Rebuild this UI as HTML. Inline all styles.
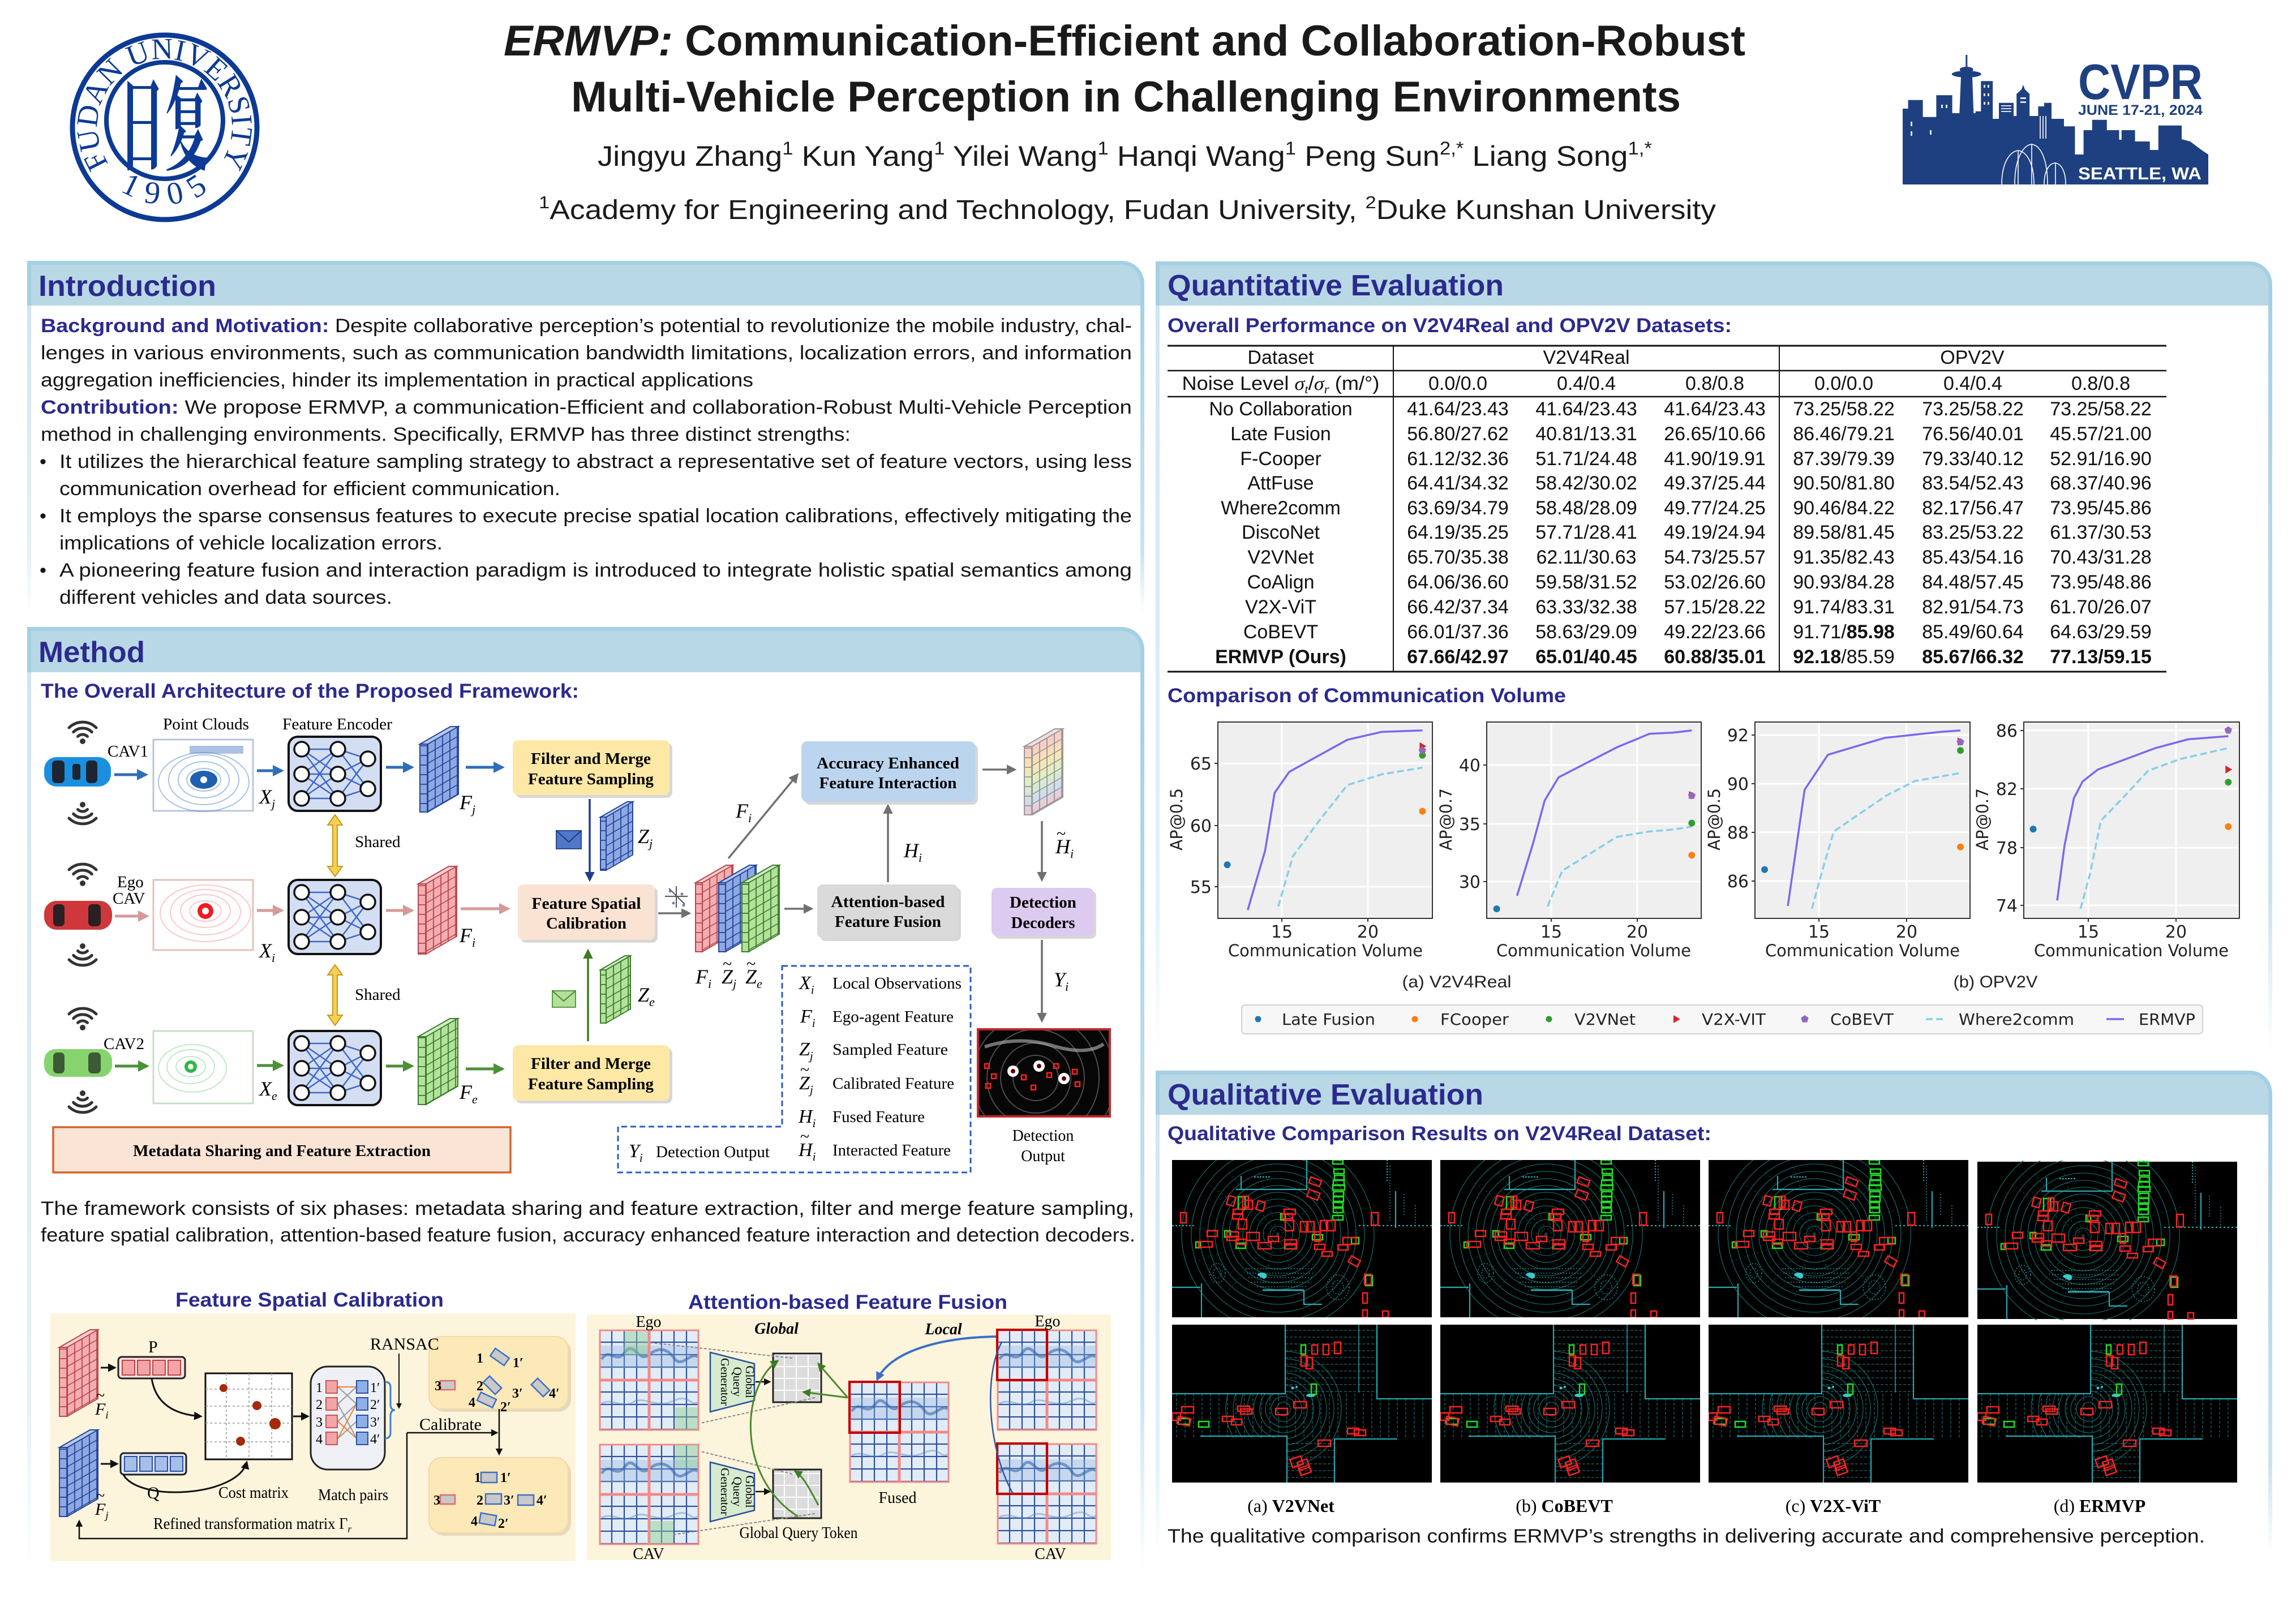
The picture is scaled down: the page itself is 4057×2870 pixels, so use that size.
<!DOCTYPE html>
<html><head><meta charset="utf-8"><title>ERMVP Poster</title>
<style>
html,body{margin:0;padding:0;background:#fff;width:4057px;height:2870px;overflow:hidden}
svg{display:block}
</style></head><body>
<svg xmlns="http://www.w3.org/2000/svg" width="4057" height="2870" viewBox="0 0 4057 2870" font-family="Liberation Sans, Arial, sans-serif">
<defs>
<linearGradient id="gR" x1="0" y1="0" x2="0" y2="1"><stop offset="0" stop-color="#a6d1e4"/><stop offset="0.8" stop-color="#c9e4ef"/><stop offset="1" stop-color="#ffffff"/></linearGradient>
<linearGradient id="gL" x1="0" y1="0" x2="0" y2="1"><stop offset="0" stop-color="#cfe6f1"/><stop offset="0.8" stop-color="#e3f1f7"/><stop offset="1" stop-color="#ffffff"/></linearGradient>
<linearGradient id="gRb" x1="0" y1="0" x2="0" y2="1"><stop offset="0" stop-color="#f5c9c9"/><stop offset="0.3" stop-color="#fbe4b4"/><stop offset="0.55" stop-color="#dcefc6"/><stop offset="0.8" stop-color="#cfdcef"/><stop offset="1" stop-color="#f3c6cf"/></linearGradient>
<pattern id="pB" width="13" height="17" patternUnits="userSpaceOnUse"><rect width="13" height="17" fill="#8ea9e2" stroke="#23449a" stroke-width="1.8"/></pattern>
<pattern id="pR" width="13" height="17" patternUnits="userSpaceOnUse"><rect width="13" height="17" fill="#f4aeb0" stroke="#b8474f" stroke-width="1.8"/></pattern>
<pattern id="pG" width="13" height="17" patternUnits="userSpaceOnUse"><rect width="13" height="17" fill="#b3e29b" stroke="#3d7b2d" stroke-width="1.8"/></pattern>
<pattern id="pK" width="13" height="17" patternUnits="userSpaceOnUse"><rect width="13" height="17" fill="none" stroke="#8a8a8a" stroke-width="1.5"/></pattern>
<pattern id="pQ" width="22" height="22" patternUnits="userSpaceOnUse"><rect width="22" height="22" fill="#e2ecf6" stroke="#2c4f9f" stroke-width="2.2"/></pattern>
<pattern id="pT" width="21" height="21" patternUnits="userSpaceOnUse"><rect width="21" height="21" fill="#dcdcdc" stroke="#ffffff" stroke-width="2"/></pattern>
<marker id="aB" viewBox="0 0 10 10" refX="8" refY="5" markerWidth="4" markerHeight="4" orient="auto"><path d="M0,0L10,5L0,10z" fill="#2e6fb7"/></marker>
<marker id="aP" viewBox="0 0 10 10" refX="8" refY="5" markerWidth="4" markerHeight="4" orient="auto"><path d="M0,0L10,5L0,10z" fill="#d49a97"/></marker>
<marker id="aG" viewBox="0 0 10 10" refX="8" refY="5" markerWidth="4" markerHeight="4" orient="auto"><path d="M0,0L10,5L0,10z" fill="#4b9139"/></marker>
<marker id="aK" viewBox="0 0 10 10" refX="8" refY="5" markerWidth="5" markerHeight="5" orient="auto"><path d="M0,0L10,5L0,10z" fill="#707070"/></marker>
<marker id="aD" viewBox="0 0 10 10" refX="8" refY="5" markerWidth="5" markerHeight="5" orient="auto"><path d="M0,0L10,5L0,10z" fill="#1f3d8f"/></marker>
<marker id="aDG" viewBox="0 0 10 10" refX="8" refY="5" markerWidth="5" markerHeight="5" orient="auto"><path d="M0,0L10,5L0,10z" fill="#3f7a25"/></marker>
<marker id="aBk" viewBox="0 0 10 10" refX="8" refY="5" markerWidth="5" markerHeight="5" orient="auto"><path d="M0,0L10,5L0,10z" fill="#111"/></marker>
<marker id="aBl" viewBox="0 0 10 10" refX="8" refY="5" markerWidth="4" markerHeight="4" orient="auto"><path d="M0,0L10,5L0,10z" fill="#3a6fc8"/></marker>

<g id="enc">
<rect x="0" y="0" width="163" height="131" rx="16" fill="#d4def3" stroke="#111" stroke-width="4"/>
<g stroke="#3d68c9" stroke-width="2.5">
<path d="M23,22L87,22M23,22L87,66M23,22L87,109M23,66L87,22M23,66L87,66M23,66L87,109M23,109L87,22M23,109L87,66M23,109L87,109"/>
<path d="M87,22L140,39M87,22L140,92M87,66L140,39M87,66L140,92M87,109L140,39M87,109L140,92"/>
</g>
<g fill="#fff" stroke="#111" stroke-width="3.5">
<circle cx="23" cy="22" r="13"/><circle cx="23" cy="66" r="13"/><circle cx="23" cy="109" r="13"/>
<circle cx="87" cy="22" r="13"/><circle cx="87" cy="66" r="13"/><circle cx="87" cy="109" r="13"/>
<circle cx="140" cy="39" r="13"/><circle cx="140" cy="92" r="13"/>
</g>
</g>

<g id="q4">
<rect x="0" y="0" width="176" height="178" fill="url(#pQ)"/>
<rect x="0" y="28" width="176" height="40" fill="#8fb4e0" opacity="0.35"/>
<path d="M4,52 C18,30 30,62 45,40 S70,58 86,45 S118,30 132,50 S160,38 174,48" stroke="#2c5ea8" stroke-width="5" fill="none" opacity="0.55"/>
<path d="M4,130 C25,120 40,140 60,128 S100,140 130,126 S160,136 174,128" stroke="#4d7fc0" stroke-width="3" fill="none" opacity="0.4"/>
<g fill="none" stroke="#f28a8a" stroke-width="3">
<rect x="1" y="1" width="86" height="87"/><rect x="89" y="1" width="86" height="87"/>
<rect x="1" y="90" width="86" height="87"/><rect x="89" y="90" width="86" height="87"/>
</g>
</g>

<clipPath id="cpB"><path d="M200,0 H362 V131 H459 V200 H287 V279 H203 V200 H0 V122 H200 Z"/></clipPath>

<symbol id="scA" viewBox="0 0 459 278">
<rect width="459" height="278" fill="#000"/>
<g fill="none" stroke="#137070" stroke-width="1.3" opacity="0.9">
<circle cx="187" cy="131" r="14"/><circle cx="187" cy="131" r="26"/><circle cx="187" cy="131" r="38"/><circle cx="187" cy="131" r="50"/><circle cx="187" cy="131" r="62"/><circle cx="187" cy="131" r="74"/><circle cx="187" cy="131" r="86"/><circle cx="187" cy="131" r="98"/><circle cx="187" cy="131" r="111"/><circle cx="187" cy="131" r="124"/><circle cx="187" cy="131" r="138"/><circle cx="187" cy="131" r="153"/><circle cx="187" cy="131" r="170"/>
<path d="M187,131L60,40M187,131L100,20M187,131L150,10M187,131L240,15M187,131L300,40M187,131L360,80M187,131L100,230M187,131L150,250M187,131L230,250M187,131L300,230M187,131L40,180M187,131L30,120" stroke-dasharray="3 5" opacity="0.7"/>
</g>
<g stroke="#2aa8b0" fill="none" stroke-width="2.2">
<path d="M113,52H238V0"/><path d="M122,28V52"/><path d="M145,30H175" stroke-dasharray="3 2"/><path d="M395,55V120"/><path d="M380,0V40" stroke-dasharray="2 3"/>
<path d="M0,225H50"/><path d="M52,218V278"/><path d="M160,230H233" stroke-width="3"/><path d="M233,230V255H265"/>
<path d="M0,116H40" stroke-dasharray="3 3"/><path d="M330,116H459" stroke-dasharray="3 4"/>
</g>
<g fill="none" stroke="#2aa0a8" stroke-width="1.6" stroke-dasharray="2 3" opacity="0.85">
<ellipse cx="80" cy="200" rx="14" ry="17"/><ellipse cx="80" cy="200" rx="7" ry="9"/>
<ellipse cx="293" cy="225" rx="20" ry="22"/><ellipse cx="293" cy="225" rx="10" ry="12"/>
<path d="M130,192H250M132,200H252M135,208H250M140,216H245M150,224H240"/>
<path d="M385,10V110M410,60V100M430,80V120"/>
</g>
<path d="M150,203 q8,-7 16,-2 q4,6 -4,9 z" fill="#3cc8d0"/>
<g fill="none" stroke="#22e022" stroke-width="2.5">
<rect x="284" y="0" width="18" height="7"/><rect x="286" y="16" width="18" height="8"/><rect x="287" y="27" width="17" height="8"/><rect x="285" y="36" width="19" height="9"/><rect x="284" y="44" width="21" height="9"/><rect x="285" y="56" width="18" height="8"/><rect x="285" y="65" width="18" height="8"/><rect x="285" y="75" width="17" height="8"/><rect x="285" y="85" width="17" height="8"/><rect x="284" y="98" width="18" height="8"/>
<rect x="42" y="145" width="8" height="10"/><rect x="93" y="125" width="10" height="11"/><rect x="113" y="147" width="17" height="9"/><rect x="192" y="95" width="8" height="11"/><rect x="248" y="132" width="18" height="9"/><rect x="317" y="137" width="13" height="11"/><rect x="342" y="204" width="12" height="18"/><rect x="117" y="65" width="12" height="22"/><rect x="199" y="149" width="21" height="8"/>
</g>
<g fill="none" stroke="#ff2020" stroke-width="2.5">
<rect x="15" y="93" width="10" height="18"/><rect x="98" y="64" width="13" height="16" transform="rotate(15 104 72)"/><rect x="125" y="64" width="10" height="20"/><rect x="130" y="71" width="12" height="16"/><rect x="150" y="73" width="13" height="16" transform="rotate(15 156 81)"/><rect x="243" y="33" width="20" height="11" transform="rotate(20 253 38)"/><rect x="240" y="55" width="20" height="13" transform="rotate(20 250 61)"/><rect x="108" y="87" width="17" height="9"/><rect x="107" y="95" width="18" height="9"/><rect x="117" y="105" width="15" height="17"/><rect x="198" y="87" width="20" height="9"/><rect x="195" y="95" width="18" height="9"/><rect x="200" y="107" width="15" height="18"/><rect x="227" y="109" width="13" height="18"/><rect x="238" y="109" width="13" height="18"/><rect x="262" y="107" width="13" height="18"/><rect x="273" y="107" width="15" height="18"/><rect x="252" y="127" width="10" height="17"/><rect x="352" y="93" width="12" height="22"/><rect x="62" y="125" width="18" height="10"/><rect x="47" y="144" width="24" height="10"/><rect x="97" y="127" width="20" height="9"/><rect x="97" y="135" width="20" height="7"/><rect x="113" y="140" width="18" height="9"/><rect x="132" y="128" width="22" height="14"/><rect x="152" y="146" width="23" height="11"/><rect x="170" y="135" width="18" height="9"/><rect x="199" y="141" width="21" height="9"/><rect x="200" y="148" width="20" height="9"/><rect x="252" y="149" width="18" height="9"/><rect x="265" y="162" width="18" height="8"/><rect x="293" y="150" width="18" height="9"/><rect x="302" y="137" width="23" height="12"/><rect x="313" y="173" width="18" height="12" transform="rotate(30 322 179)"/><rect x="340" y="202" width="12" height="18"/><rect x="337" y="235" width="8" height="18"/><rect x="337" y="265" width="8" height="13"/><rect x="372" y="267" width="10" height="11"/>
</g>
</symbol>

<symbol id="scB" viewBox="0 0 459 279">
<rect width="459" height="279" fill="#000"/>
<g clip-path="url(#cpB)">
<g fill="none" stroke="#137070" stroke-width="1.3" opacity="0.9">
<circle cx="197" cy="149" r="12"/><circle cx="197" cy="149" r="22"/><circle cx="197" cy="149" r="32"/><circle cx="197" cy="149" r="42"/><circle cx="197" cy="149" r="53"/><circle cx="197" cy="149" r="64"/><circle cx="197" cy="149" r="76"/><circle cx="197" cy="149" r="89"/><circle cx="197" cy="149" r="102"/>
</g>
<g fill="none" stroke="#168088" stroke-width="1.2" stroke-dasharray="5 3" opacity="0.85">
<path d="M8,122V200M23,122V200M38,122V200M53,122V200M68,122V200M83,122V200M98,122V200M113,122V200M128,122V200M143,122V200M158,122V200M173,122V200M188,122V200M203,122V200M218,122V200M233,122V200M248,122V200M263,122V200M278,122V200M293,122V200M308,122V200M323,122V200M338,122V200M353,122V200M368,122V200M383,122V200M398,122V200M413,122V200M428,122V200M443,122V200"/>
<path d="M200,10H362M200,22H362M200,34H362M200,46H362M200,58H362M200,70H362M200,82H362M200,94H362M200,106H362M200,118H362"/>
<path d="M203,210H287M203,222H287M203,234H287M203,246H287M203,258H287M203,270H287"/>
</g>
</g>
<g stroke="#25a8b0" fill="none" stroke-width="2.2">
<path d="M200,0V122H0"/><path d="M362,0V131H459"/><path d="M50,197H203V279"/><path d="M287,279V202H398"/><path d="M330,0V120" stroke-width="1.4"/>
</g>
<g fill="#3cc8d0"><ellipse cx="245" cy="125" rx="8" ry="3"/><circle cx="213" cy="112" r="2.5"/><circle cx="220" cy="110" r="2"/></g>
<g fill="none" stroke="#22e022" stroke-width="2.5">
<rect x="228" y="36" width="8" height="16"/><rect x="246" y="105" width="9" height="18"/><rect x="47" y="171" width="18" height="10"/><rect x="11" y="166" width="20" height="10"/>
</g>
<g fill="none" stroke="#ff2020" stroke-width="2.5">
<rect x="247" y="36" width="10" height="16"/><rect x="267" y="35" width="10" height="18"/><rect x="287" y="31" width="11" height="20"/><rect x="228" y="55" width="11" height="18"/><rect x="237" y="58" width="11" height="20"/><rect x="215" y="136" width="22" height="11"/><rect x="183" y="148" width="21" height="11"/><rect x="116" y="144" width="21" height="9"/><rect x="121" y="149" width="20" height="9"/><rect x="89" y="162" width="19" height="9"/><rect x="105" y="167" width="18" height="10"/><rect x="17" y="145" width="21" height="11"/><rect x="0" y="156" width="15" height="13"/><rect x="10" y="164" width="22" height="13" transform="rotate(12 21 170)"/><rect x="310" y="183" width="20" height="10"/><rect x="322" y="186" width="20" height="10"/><rect x="258" y="204" width="22" height="11"/><rect x="210" y="235" width="20" height="15" transform="rotate(-20 220 242)"/><rect x="223" y="240" width="18" height="15" transform="rotate(-20 232 247)"/><rect x="225" y="251" width="19" height="13" transform="rotate(-20 234 257)"/>
</g>
</symbol>

<g id="mV2X"><path d="M-5,-7L7,0L-5,7Z" fill="#d62728"/></g>
<g id="mCo"><path d="M0,-7L6.7,-2.2L4.1,5.7L-4.1,5.7L-6.7,-2.2Z" fill="#9467bd"/></g>
<clipPath id="cpDet"><rect x="1728" y="1819" width="233" height="154"/></clipPath>
</defs>

<rect width="4057" height="2870" fill="#fff"/>

<!-- ================= HEADER ================= -->
<g>
<circle cx="291" cy="225" r="163" fill="none" stroke="#0c3a94" stroke-width="9"/>
<circle cx="291" cy="213" r="103" fill="none" stroke="#0c3a94" stroke-width="8"/>
<path id="fudanArc" d="M193.5,291.3 A119,119 0 1 1 388.5,291.3" fill="none"/>
<path id="fudanArc2" d="M175.7,297.1 A136,136 0 0 0 406.3,297.1" fill="none"/>
<text font-family="Liberation Serif, serif" font-size="53" fill="#0c3a94"><textPath href="#fudanArc" startOffset="2">FUDAN UNIVERSITY</textPath></text>
<text font-family="Liberation Serif, serif" font-size="56" fill="#0c3a94" letter-spacing="18" text-anchor="middle"><textPath href="#fudanArc2" startOffset="53%">1905</textPath></text>
<text transform="translate(291,286) scale(0.85,1.9)" font-family="Noto Serif CJK SC, Noto Sans CJK SC, serif" font-weight="bold" font-size="95" fill="#0c3a94" text-anchor="middle">日复</text>
</g>

<text x="890" y="98" font-size="76" font-weight="bold" fill="#1a1a1a" textLength="2194" lengthAdjust="spacingAndGlyphs"><tspan font-style="italic">ERMVP:</tspan> Communication-Efficient and Collaboration-Robust</text>
<text x="1009" y="197" font-size="76" font-weight="bold" fill="#1a1a1a" textLength="1961" lengthAdjust="spacingAndGlyphs">Multi-Vehicle Perception in Challenging Environments</text>
<text x="1056" y="293" font-size="50" fill="#1a1a1a" textLength="1863" lengthAdjust="spacingAndGlyphs">Jingyu Zhang<tspan font-size="32" dy="-20">1</tspan><tspan dy="20"> Kun Yang</tspan><tspan font-size="32" dy="-20">1</tspan><tspan dy="20"> Yilei Wang</tspan><tspan font-size="32" dy="-20">1</tspan><tspan dy="20"> Hanqi Wang</tspan><tspan font-size="32" dy="-20">1</tspan><tspan dy="20"> Peng Sun</tspan><tspan font-size="32" dy="-20">2,*</tspan><tspan dy="20"> Liang Song</tspan><tspan font-size="32" dy="-20">1,*</tspan></text>
<text x="952" y="387" font-size="48" fill="#1a1a1a" textLength="2080" lengthAdjust="spacingAndGlyphs"><tspan font-size="31" dy="-19">1</tspan><tspan dy="19">Academy for Engineering and Technology, Fudan University, </tspan><tspan font-size="31" dy="-19">2</tspan><tspan dy="19">Duke Kunshan University</tspan></text>

<!-- CVPR logo -->
<g fill="#1f4080">
<path d="M3362,326 V192 H3371.6 V176.7 H3397.6 V206.7 H3421.4 V168.3 H3449.6 V200 H3490.8 V196.7 H3500.3 V143.3 H3521.2 V210 H3532 V181.7 H3558 V205 H3563.2 V166 L3572,158 L3575,150 L3578,158 L3586.2,166 V205 H3601.4 V188 H3612 V181.7 H3625 V210 H3647 V223.3 H3666.4 V273 H3681.6 V230 H3696.8 V211.7 H3722.8 V230 H3744.5 V247 H3748.8 V230 H3772.6 V250 H3798.7 V265 H3813.8 V221.7 H3855 V246 L3870,250 L3890,265 L3902,273 V326 Z"/>
<path d="M3473.3,97 h3 v28 h-3 z"/>
<ellipse cx="3474.8" cy="131" rx="26" ry="6"/><ellipse cx="3474.8" cy="123" rx="12" ry="5"/>
<polygon points="3465,136 3485,136 3492,326 3457,326"/>
<text x="3672" y="175" font-size="88" font-weight="bold" textLength="220" lengthAdjust="spacingAndGlyphs">CVPR</text>
<text x="3672" y="203" font-size="25" font-weight="bold" textLength="220" lengthAdjust="spacingAndGlyphs">JUNE 17-21, 2024</text>
</g>
<g fill="#fff" opacity="0.85">
<rect x="3376" y="215" width="3" height="8"/><rect x="3376" y="232" width="3" height="8"/><rect x="3410" y="230" width="3" height="8"/><rect x="3430" y="185" width="3" height="6"/><rect x="3438" y="185" width="3" height="6"/>
<rect x="3505" y="150" width="3" height="5"/><rect x="3512" y="150" width="3" height="5"/><rect x="3505" y="165" width="3" height="5"/><rect x="3512" y="165" width="3" height="5"/><rect x="3505" y="180" width="3" height="5"/><rect x="3512" y="180" width="3" height="5"/>
<rect x="3536" y="186" width="18" height="2"/><rect x="3536" y="191" width="18" height="2"/><rect x="3536" y="196" width="18" height="2"/><rect x="3570" y="172" width="10" height="3"/><rect x="3570" y="179" width="10" height="3"/>
<rect x="3604" y="205" width="2" height="40"/><rect x="3609" y="205" width="2" height="40"/><rect x="3614" y="205" width="2" height="40"/>
</g>
<g fill="none" stroke="#fff" stroke-width="1.6">
<path d="M3537,326 C3537,290 3550,268 3566,266 C3582,268 3594,290 3594,326"/>
<path d="M3560,326 C3560,280 3575,256 3590,255 C3606,257 3618,282 3618,326"/>
<path d="M3612,326 C3612,300 3622,288 3632,288 C3642,290 3650,302 3650,326"/>
<path d="M3566,266 V326 M3590,255 V326 M3632,288 V326"/>
</g>
<text x="3672" y="317" font-size="31" font-weight="bold" fill="#fff" textLength="218" lengthAdjust="spacingAndGlyphs">SEATTLE, WA</text>

<!-- ================= SECTION FRAMES ================= -->
<path d="M48,540 V461 H1982 A40,40 0 0 1 2022,501 V540 Z" fill="#a5d0e3"/>
<path d="M55,540 V468 H1982 A33,33 0 0 1 2015,501 V540 Z" fill="#b9d8e6"/>
<rect x="48" y="540" width="7" height="543" fill="url(#gL)"/>
<rect x="2015" y="540" width="7" height="543" fill="url(#gR)"/>
<path d="M48,1188 V1108 H1982 A40,40 0 0 1 2022,1148 V1188 Z" fill="#a5d0e3"/>
<path d="M55,1188 V1115 H1982 A33,33 0 0 1 2015,1148 V1188 Z" fill="#b9d8e6"/>
<rect x="48" y="1188" width="7" height="1587" fill="url(#gL)"/>
<rect x="2015" y="1188" width="7" height="1587" fill="url(#gR)"/>
<path d="M2042,540 V462 H3975 A40,40 0 0 1 4015,502 V540 Z" fill="#a5d0e3"/>
<path d="M2049,540 V469 H3975 A33,33 0 0 1 4008,502 V540 Z" fill="#b9d8e6"/>
<rect x="2042" y="540" width="7" height="1315" fill="url(#gL)"/>
<rect x="4008" y="540" width="7" height="1315" fill="url(#gR)"/>
<path d="M2042,1970 V1892 H3975 A40,40 0 0 1 4015,1932 V1970 Z" fill="#a5d0e3"/>
<path d="M2049,1970 V1899 H3975 A33,33 0 0 1 4008,1932 V1970 Z" fill="#b9d8e6"/>
<rect x="2042" y="1970" width="7" height="775" fill="url(#gL)"/>
<rect x="4008" y="1970" width="7" height="775" fill="url(#gR)"/>

<g font-size="52" font-weight="bold" fill="#2b2a8d">
<text x="68" y="523" textLength="314" lengthAdjust="spacingAndGlyphs">Introduction</text>
<text x="68" y="1170" textLength="188" lengthAdjust="spacingAndGlyphs">Method</text>
<text x="2063" y="522" textLength="594" lengthAdjust="spacingAndGlyphs">Quantitative Evaluation</text>
<text x="2063" y="1952" textLength="558" lengthAdjust="spacingAndGlyphs">Qualitative Evaluation</text>
</g>
<g font-size="35" font-weight="bold" fill="#2b2a8d">
<text x="72" y="1233" textLength="951" lengthAdjust="spacingAndGlyphs">The Overall Architecture of the Proposed Framework:</text>
<text x="2063" y="587" textLength="997" lengthAdjust="spacingAndGlyphs">Overall Performance on V2V4Real and OPV2V Datasets:</text>
<text x="2063" y="1241" textLength="704" lengthAdjust="spacingAndGlyphs">Comparison of Communication Volume</text>
<text x="2063" y="2015" textLength="961" lengthAdjust="spacingAndGlyphs">Qualitative Comparison Results on V2V4Real Dataset:</text>
<text x="310" y="2309" textLength="474" lengthAdjust="spacingAndGlyphs">Feature Spatial Calibration</text>
<text x="1216" y="2313" textLength="564" lengthAdjust="spacingAndGlyphs">Attention-based Feature Fusion</text>
</g>

<!-- ================= INTRO TEXT ================= -->
<g font-size="34" fill="#151515">
<text x="72" y="587" textLength="1928" lengthAdjust="spacingAndGlyphs"><tspan font-weight="bold" fill="#2b2a8d">Background and Motivation:</tspan> Despite collaborative perception’s potential to revolutionize the mobile industry, chal-</text>
<text x="72" y="635" textLength="1928" lengthAdjust="spacingAndGlyphs">lenges in various environments, such as communication bandwidth limitations, localization errors, and information</text>
<text x="72" y="683" textLength="1259" lengthAdjust="spacingAndGlyphs">aggregation inefficiencies, hinder its implementation in practical applications</text>
<text x="72" y="731" textLength="1928" lengthAdjust="spacingAndGlyphs"><tspan font-weight="bold" fill="#2b2a8d">Contribution:</tspan> We propose ERMVP, a communication-Efficient and collaboration-Robust Multi-Vehicle Perception</text>
<text x="72" y="779" textLength="1431" lengthAdjust="spacingAndGlyphs">method in challenging environments. Specifically, ERMVP has three distinct strengths:</text>
<text x="70" y="827">•</text>
<text x="105" y="827" textLength="1895" lengthAdjust="spacingAndGlyphs">It utilizes the hierarchical feature sampling strategy to abstract a representative set of feature vectors, using less</text>
<text x="105" y="875" textLength="885" lengthAdjust="spacingAndGlyphs">communication overhead for efficient communication.</text>
<text x="70" y="923">•</text>
<text x="105" y="923" textLength="1895" lengthAdjust="spacingAndGlyphs">It employs the sparse consensus features to execute precise spatial location calibrations, effectively mitigating the</text>
<text x="105" y="971" textLength="677" lengthAdjust="spacingAndGlyphs">implications of vehicle localization errors.</text>
<text x="70" y="1019">•</text>
<text x="105" y="1019" textLength="1895" lengthAdjust="spacingAndGlyphs">A pioneering feature fusion and interaction paradigm is introduced to integrate holistic spatial semantics among</text>
<text x="105" y="1067" textLength="588" lengthAdjust="spacingAndGlyphs">different vehicles and data sources.</text>
<text x="72" y="2147" textLength="1932" lengthAdjust="spacingAndGlyphs">The framework consists of six phases: metadata sharing and feature extraction, filter and merge feature sampling,</text>
<text x="72" y="2194" textLength="1934" lengthAdjust="spacingAndGlyphs">feature spatial calibration, attention-based feature fusion, accuracy enhanced feature interaction and detection decoders.</text>
</g>

<!-- ================= METHOD DIAGRAM ================= -->
<g font-family="Liberation Serif, serif">
<g fill="none" stroke="#333" stroke-width="5" stroke-linecap="round">
<path d="M137.5,1301.5 A12,12 0 0 1 154.5,1301.5 M129.7,1293.7 A23,23 0 0 1 162.3,1293.7 M122,1286 A34,34 0 0 1 170,1286"/>
<path d="M137.5,1430.5 A12,12 0 0 0 154.5,1430.5 M129.7,1438.3 A23,23 0 0 0 162.3,1438.3 M122,1446 A34,34 0 0 0 170,1446"/>
<path d="M137.5,1552.5 A12,12 0 0 1 154.5,1552.5 M129.7,1544.7 A23,23 0 0 1 162.3,1544.7 M122,1537 A34,34 0 0 1 170,1537"/>
<path d="M137.5,1680.5 A12,12 0 0 0 154.5,1680.5 M129.7,1688.3 A23,23 0 0 0 162.3,1688.3 M122,1696 A34,34 0 0 0 170,1696"/>
<path d="M137.5,1807.5 A12,12 0 0 1 154.5,1807.5 M129.7,1799.7 A23,23 0 0 1 162.3,1799.7 M122,1792 A34,34 0 0 1 170,1792"/>
<path d="M137.5,1940.5 A12,12 0 0 0 154.5,1940.5 M129.7,1948.3 A23,23 0 0 0 162.3,1948.3 M122,1956 A34,34 0 0 0 170,1956"/>
</g>
<g fill="#333"><circle cx="146" cy="1310" r="5"/><circle cx="146" cy="1422" r="5"/><circle cx="146" cy="1561" r="5"/><circle cx="146" cy="1672" r="5"/><circle cx="146" cy="1816" r="5"/><circle cx="146" cy="1932" r="5"/></g>

<rect x="78" y="1338" width="118" height="52" rx="22" fill="#1b8fe0"/>
<rect x="92" y="1344" width="22" height="40" rx="7" fill="#1d2530"/><rect x="128" y="1350" width="14" height="28" rx="4" fill="#1d2530"/><rect x="152" y="1344" width="20" height="40" rx="7" fill="#1d2530"/>
<rect x="78" y="1592" width="120" height="51" rx="22" fill="#cf373b"/>
<rect x="94" y="1598" width="20" height="39" rx="7" fill="#2a1f22"/><rect x="156" y="1598" width="22" height="39" rx="7" fill="#2a1f22"/>
<rect x="78" y="1854" width="120" height="49" rx="20" fill="#86d46e"/>
<rect x="94" y="1860" width="20" height="37" rx="7" fill="#3d5a36"/><rect x="156" y="1860" width="22" height="37" rx="7" fill="#3d5a36"/>

<g font-size="29">
<text x="190" y="1337">CAV1</text>
<text x="207" y="1568">Ego</text>
<text x="199" y="1597">CAV</text>
<text x="183" y="1854">CAV2</text>
<text x="288" y="1289" textLength="152" lengthAdjust="spacingAndGlyphs">Point Clouds</text>
<text x="499" y="1289" textLength="194" lengthAdjust="spacingAndGlyphs">Feature Encoder</text>
<text x="627" y="1497">Shared</text>
<text x="627" y="1767">Shared</text>
</g>

<rect x="271" y="1307" width="176" height="126" fill="#fff" stroke="#b7c7e0" stroke-width="3"/>
<g fill="none" stroke="#2f6bb8" opacity="0.4" stroke-width="2">
<ellipse cx="360" cy="1378" rx="30" ry="20"/><ellipse cx="360" cy="1378" rx="45" ry="32"/><ellipse cx="360" cy="1378" rx="62" ry="44"/><ellipse cx="360" cy="1382" rx="80" ry="52"/>
</g>
<rect x="335" y="1318" width="95" height="14" fill="#5a86c8" opacity="0.5"/>
<ellipse cx="360" cy="1378" rx="24" ry="16" fill="#1f5fb0"/><circle cx="360" cy="1378" r="6" fill="#fff"/>
<rect x="271" y="1555" width="176" height="124" fill="#fff" stroke="#e3c2b8" stroke-width="3"/>
<g fill="none" stroke="#f05050" opacity="0.3" stroke-width="2">
<ellipse cx="363" cy="1610" rx="28" ry="18"/><ellipse cx="363" cy="1610" rx="44" ry="29"/><ellipse cx="363" cy="1612" rx="62" ry="40"/><ellipse cx="363" cy="1614" rx="80" ry="50"/>
</g>
<circle cx="363" cy="1610" r="14" fill="#ee1c25"/><circle cx="363" cy="1610" r="6" fill="#fff"/>
<rect x="271" y="1822" width="176" height="128" fill="#fff" stroke="#c6e0c6" stroke-width="3"/>
<g fill="none" stroke="#2db84a" opacity="0.3" stroke-width="2">
<ellipse cx="337" cy="1885" rx="26" ry="18"/><ellipse cx="337" cy="1885" rx="42" ry="30"/><ellipse cx="340" cy="1888" rx="60" ry="42"/>
</g>
<circle cx="337" cy="1885" r="11" fill="#2db84a"/><circle cx="337" cy="1885" r="5" fill="#fff"/>

<use href="#enc" x="510" y="1302"/>
<use href="#enc" x="510" y="1555"/>
<use href="#enc" x="510" y="1822"/>

<g fill="#f6cf55" stroke="#c89a1c" stroke-width="2">
<polygon points="592,1440 605,1458 596,1458 596,1531 605,1531 592,1549 579,1531 588,1531 588,1458 579,1458"/>
<polygon points="592,1705 605,1723 596,1723 596,1794 605,1794 592,1812 579,1794 588,1794 588,1723 579,1723"/>
</g>

<g font-size="36" font-style="italic">
<text x="458" y="1420">X<tspan font-size="22" dy="8">j</tspan></text>
<text x="458" y="1692">X<tspan font-size="22" dy="8">i</tspan></text>
<text x="458" y="1936">X<tspan font-size="22" dy="8">e</tspan></text>
<text x="812" y="1430">F<tspan font-size="22" dy="8">j</tspan></text>
<text x="812" y="1665">F<tspan font-size="22" dy="8">i</tspan></text>
<text x="812" y="1942">F<tspan font-size="22" dy="8">e</tspan></text>
<text x="1127" y="1490">Z<tspan font-size="22" dy="8">j</tspan></text>
<text x="1127" y="1770">Z<tspan font-size="22" dy="8">e</tspan></text>
<text x="1300" y="1445">F<tspan font-size="22" dy="8">i</tspan></text>
<text x="1597" y="1515">H<tspan font-size="22" dy="8">i</tspan></text>
<text x="1865" y="1508">H<tspan font-size="22" dy="8">i</tspan></text>
<text x="1862" y="1743">Y<tspan font-size="22" dy="8">i</tspan></text>
<text x="1229" y="1738">F<tspan font-size="22" dy="8">i</tspan></text>
<text x="1275" y="1738">Z<tspan font-size="22" dy="8">j</tspan></text>
<text x="1317" y="1738">Z<tspan font-size="22" dy="8">e</tspan></text>
</g>
<g font-size="30"><text x="1867" y="1483">~</text><text x="1277" y="1713">~</text><text x="1319" y="1713">~</text></g>

<g stroke-width="5" fill="none">
<path d="M202,1369H258" stroke="#2e6fb7" marker-end="url(#aB)"/>
<path d="M454,1362H498" stroke="#2e6fb7" marker-end="url(#aB)"/>
<path d="M682,1356H728" stroke="#2e6fb7" marker-end="url(#aB)"/>
<path d="M823,1356H888" stroke="#2e6fb7" marker-end="url(#aB)"/>
<path d="M203,1619H260" stroke="#d49a97" marker-end="url(#aP)"/>
<path d="M454,1609H498" stroke="#d49a97" marker-end="url(#aP)"/>
<path d="M682,1609H728" stroke="#d49a97" marker-end="url(#aP)"/>
<path d="M814,1606H898" stroke="#d49a97" marker-end="url(#aP)"/>
<path d="M203,1884H260" stroke="#4b9139" marker-end="url(#aG)"/>
<path d="M454,1883H498" stroke="#4b9139" marker-end="url(#aG)"/>
<path d="M682,1884H728" stroke="#4b9139" marker-end="url(#aG)"/>
<path d="M823,1889H888" stroke="#4b9139" marker-end="url(#aG)"/>
</g>
<g stroke-width="3.5" fill="none">
<path d="M1042,1412V1555" stroke="#1f3d8f" marker-end="url(#aD)"/>
<path d="M1039,1840V1680" stroke="#3f7a25" marker-end="url(#aDG)"/>
<path d="M1163,1614H1218" stroke="#707070" marker-end="url(#aK)"/>
<path d="M1386,1606H1434" stroke="#707070" marker-end="url(#aK)"/>
<path d="M1569,1559V1424" stroke="#707070" marker-end="url(#aK)"/>
<path d="M1287,1517L1409,1369" stroke="#707070" marker-end="url(#aK)"/>
<path d="M1736,1360H1793" stroke="#707070" marker-end="url(#aK)"/>
<path d="M1841,1451V1555" stroke="#707070" marker-end="url(#aK)"/>
<path d="M1841,1661V1804" stroke="#707070" marker-end="url(#aK)"/>
</g>

<g transform="translate(742,1284)" stroke="#23449a" stroke-width="2"><path d="M0,31L14,31L68,0L54,0Z" fill="#b9c9ee"/><rect x="0" y="31" width="14" height="120" fill="url(#pB)"/><g transform="translate(14,31) skewY(-30)"><rect width="54" height="120" fill="url(#pB)"/></g></g>
<g transform="translate(739,1531)" stroke="#b8474f" stroke-width="2"><path d="M0,31L14,31L68,0L54,0Z" fill="#f8d0d2"/><rect x="0" y="31" width="14" height="124" fill="url(#pR)"/><g transform="translate(14,31) skewY(-30)"><rect width="54" height="124" fill="url(#pR)"/></g></g>
<g transform="translate(739,1800)" stroke="#3d7b2d" stroke-width="2"><path d="M0,32L14,32L70,0L56,0Z" fill="#d3efc5"/><rect x="0" y="32" width="14" height="120" fill="url(#pG)"/><g transform="translate(14,32) skewY(-30)"><rect width="56" height="120" fill="url(#pG)"/></g></g>
<g transform="translate(1061,1417)" stroke="#23449a" stroke-width="2"><path d="M0,27L10,27L57,0L47,0Z" fill="#b9c9ee"/><rect x="0" y="27" width="10" height="94" fill="url(#pB)"/><g transform="translate(10,27) skewY(-30)"><rect width="47" height="94" fill="url(#pB)"/></g></g>
<g transform="translate(1061,1689)" stroke="#3d7b2d" stroke-width="2"><path d="M0,25L10,25L53,0L43,0Z" fill="#d3efc5"/><rect x="0" y="25" width="10" height="94" fill="url(#pG)"/><g transform="translate(10,25) skewY(-30)"><rect width="43" height="94" fill="url(#pG)"/></g></g>
<g transform="translate(1229,1529)" stroke="#b8474f" stroke-width="2"><path d="M0,31L12,31L66,0L54,0Z" fill="#f8d0d2"/><rect x="0" y="31" width="12" height="122" fill="url(#pR)"/><g transform="translate(12,31) skewY(-30)"><rect width="54" height="122" fill="url(#pR)"/></g></g>
<g transform="translate(1270,1529)" stroke="#23449a" stroke-width="2"><path d="M0,31L12,31L66,0L54,0Z" fill="#b9c9ee"/><rect x="0" y="31" width="12" height="122" fill="url(#pB)"/><g transform="translate(12,31) skewY(-30)"><rect width="54" height="122" fill="url(#pB)"/></g></g>
<g transform="translate(1311,1529)" stroke="#3d7b2d" stroke-width="2"><path d="M0,31L12,31L66,0L54,0Z" fill="#d3efc5"/><rect x="0" y="31" width="12" height="122" fill="url(#pG)"/><g transform="translate(12,31) skewY(-30)"><rect width="54" height="122" fill="url(#pG)"/></g></g>
<g transform="translate(1810,1288)" stroke="#999" stroke-width="2"><path d="M0,31L14,31L68,0L54,0Z" fill="#f3dede"/><rect x="0" y="31" width="14" height="121" fill="url(#gRb)"/><rect x="0" y="31" width="14" height="121" fill="url(#pK)"/><g transform="translate(14,31) skewY(-30)"><rect width="54" height="121" fill="url(#gRb)"/><rect width="54" height="121" fill="url(#pK)"/></g></g>

<rect x="983" y="1468" width="44" height="32" fill="#5078c8" stroke="#2a4a90" stroke-width="2"/><path d="M983,1468L1005,1488L1027,1468" stroke="#1f3a80" stroke-width="2" fill="none"/>
<rect x="976" y="1751" width="41" height="29" fill="#b3e09a" stroke="#5a9a40" stroke-width="2"/><path d="M976,1751L996,1769L1017,1751" stroke="#4a8a30" stroke-width="2" fill="none"/>
<g stroke="#555" stroke-width="2"><path d="M1175,1584H1215M1195,1566V1604M1182,1570L1210,1598"/></g>
<g fill="#6a7fb0"><circle cx="1184" cy="1575" r="2.5"/><circle cx="1205" cy="1580" r="2.5"/><circle cx="1190" cy="1596" r="2.5"/><circle cx="1208" cy="1600" r="2.5"/></g>

<g fill="#bdbdbd" opacity="0.6">
<rect x="911" y="1313" width="277" height="97" rx="10"/><rect x="911" y="1852" width="277" height="98" rx="10"/>
<rect x="920" y="1568" width="242" height="98" rx="10"/><rect x="1449" y="1568" width="249" height="95" rx="10"/>
<rect x="1421" y="1315" width="307" height="107" rx="10"/><rect x="1757" y="1574" width="180" height="85" rx="10"/>
</g>
<rect x="906" y="1308" width="277" height="97" rx="10" fill="#fde8a5"/>
<rect x="906" y="1847" width="277" height="98" rx="10" fill="#fde8a5"/>
<rect x="915" y="1563" width="242" height="98" rx="10" fill="#fbe3d3"/>
<rect x="1444" y="1563" width="249" height="95" rx="10" fill="#dadada"/>
<rect x="1416" y="1310" width="307" height="107" rx="10" fill="#bcd5ee"/>
<rect x="1752" y="1569" width="180" height="85" rx="10" fill="#dccaf0"/>
<g font-size="29" font-weight="bold" text-anchor="middle">
<text x="1044" y="1350" textLength="212" lengthAdjust="spacingAndGlyphs">Filter and Merge</text>
<text x="1044" y="1386" textLength="222" lengthAdjust="spacingAndGlyphs">Feature Sampling</text>
<text x="1044" y="1889" textLength="212" lengthAdjust="spacingAndGlyphs">Filter and Merge</text>
<text x="1044" y="1925" textLength="222" lengthAdjust="spacingAndGlyphs">Feature Sampling</text>
<text x="1036" y="1606" textLength="193" lengthAdjust="spacingAndGlyphs">Feature Spatial</text>
<text x="1036" y="1641" textLength="142" lengthAdjust="spacingAndGlyphs">Calibration</text>
<text x="1569" y="1603" textLength="201" lengthAdjust="spacingAndGlyphs">Attention-based</text>
<text x="1569" y="1638" textLength="188" lengthAdjust="spacingAndGlyphs">Feature Fusion</text>
<text x="1569" y="1358" textLength="252" lengthAdjust="spacingAndGlyphs">Accuracy Enhanced</text>
<text x="1569" y="1393" textLength="243" lengthAdjust="spacingAndGlyphs">Feature Interaction</text>
<text x="1843" y="1604" textLength="118" lengthAdjust="spacingAndGlyphs">Detection</text>
<text x="1843" y="1640" textLength="113" lengthAdjust="spacingAndGlyphs">Decoders</text>
</g>

<rect x="94" y="1992" width="808" height="80" fill="#fae4d6" stroke="#d0652a" stroke-width="3.5"/>
<text x="498" y="2043" font-size="29" font-weight="bold" text-anchor="middle" textLength="526" lengthAdjust="spacingAndGlyphs">Metadata Sharing and Feature Extraction</text>

<path d="M1382,1707 H1715 V2072 H1092 V1991 H1382 Z" fill="none" stroke="#2a5bc6" stroke-width="3" stroke-dasharray="10 6"/>
<g font-size="34" font-style="italic">
<text x="1412" y="1748">X<tspan font-size="21" dy="8">i</tspan></text>
<text x="1414" y="1807">F<tspan font-size="21" dy="8">i</tspan></text>
<text x="1412" y="1865">Z<tspan font-size="21" dy="8">j</tspan></text>
<text x="1412" y="1925">Z<tspan font-size="21" dy="8">j</tspan></text>
<text x="1411" y="1984">H<tspan font-size="21" dy="8">i</tspan></text>
<text x="1411" y="2043">H<tspan font-size="21" dy="8">i</tspan></text>
<text x="1111" y="2045">Y<tspan font-size="21" dy="8">i</tspan></text>
</g>
<g font-size="30"><text x="1414" y="1900">~</text><text x="1414" y="2018">~</text></g>
<g font-size="28">
<text x="1471" y="1747" textLength="228" lengthAdjust="spacingAndGlyphs">Local Observations</text>
<text x="1471" y="1806" textLength="214" lengthAdjust="spacingAndGlyphs">Ego-agent Feature</text>
<text x="1471" y="1864" textLength="204" lengthAdjust="spacingAndGlyphs">Sampled  Feature</text>
<text x="1471" y="1924" textLength="215" lengthAdjust="spacingAndGlyphs">Calibrated Feature</text>
<text x="1471" y="1983" textLength="163" lengthAdjust="spacingAndGlyphs">Fused Feature</text>
<text x="1471" y="2042" textLength="209" lengthAdjust="spacingAndGlyphs">Interacted Feature</text>
<text x="1159" y="2045" textLength="201" lengthAdjust="spacingAndGlyphs">Detection Output</text>
<text x="1843" y="2016" text-anchor="middle">Detection</text>
<text x="1843" y="2052" text-anchor="middle">Output</text>
</g>

<rect x="1728" y="1819" width="233" height="154" fill="#060606"/>
<g clip-path="url(#cpDet)">
<g fill="none" stroke="#6a6a6a" stroke-width="2" opacity="0.7">
<circle cx="1830" cy="1905" r="40"/><circle cx="1830" cy="1905" r="62"/><circle cx="1830" cy="1905" r="86"/><circle cx="1830" cy="1905" r="112"/><circle cx="1830" cy="1905" r="140"/>
</g>
<path d="M1740,1850 Q1800,1830 1860,1848 T1950,1845" stroke="#bbb" stroke-width="6" fill="none" opacity="0.6"/>
<g fill="#fff"><circle cx="1790" cy="1893" r="10"/><circle cx="1836" cy="1884" r="10"/><circle cx="1880" cy="1906" r="10"/></g>
<g fill="#5a0000"><circle cx="1790" cy="1893" r="4"/><circle cx="1836" cy="1884" r="4"/><circle cx="1880" cy="1906" r="4"/></g>
<g fill="none" stroke="#ff2020" stroke-width="2.5">
<rect x="1740" y="1880" width="8" height="8"/><rect x="1752" y="1898" width="8" height="8"/><rect x="1742" y="1915" width="8" height="8"/><rect x="1805" y="1900" width="8" height="8"/><rect x="1850" y="1896" width="8" height="8"/><rect x="1862" y="1880" width="8" height="8"/><rect x="1895" y="1890" width="8" height="8"/><rect x="1900" y="1912" width="8" height="8"/><rect x="1822" y="1918" width="8" height="8"/>
</g>
</g>
<rect x="1728" y="1819" width="233" height="154" fill="none" stroke="#c1272d" stroke-width="4"/>
</g>

<!-- ================= BOTTOM FIGURES ================= -->
<g font-family="Liberation Serif, serif">
<rect x="89" y="2321" width="928" height="438" fill="#fdf4dc"/>
<rect x="1037" y="2323" width="926" height="434" fill="#fdf4dc"/>

<!-- car panels first so labels sit on top -->
<g fill="#d8cdb5" opacity="0.7"><rect x="763" y="2367" width="246" height="128" rx="22"/><rect x="763" y="2581" width="246" height="133" rx="22"/></g>
<rect x="758" y="2362" width="246" height="128" rx="22" fill="#fde8b8" stroke="#f1d9a6" stroke-width="2"/>
<rect x="758" y="2576" width="246" height="133" rx="22" fill="#fde8b8" stroke="#f1d9a6" stroke-width="2"/>
<g fill="#c9c9c9" stroke="#3a6fc8" stroke-width="2.5">
<rect x="868" y="2390" width="30" height="16" transform="rotate(35 883 2398)"/><rect x="778" y="2440" width="26" height="16" stroke="#e36a6a"/><rect x="855" y="2440" width="30" height="16" transform="rotate(45 870 2448)"/><rect x="940" y="2444" width="30" height="16" transform="rotate(45 955 2452)"/><rect x="845" y="2466" width="30" height="16" transform="rotate(25 860 2474)"/>
<rect x="850" y="2602" width="28" height="18"/><rect x="778" y="2642" width="26" height="16" stroke="#e36a6a"/><rect x="858" y="2640" width="28" height="18"/><rect x="915" y="2642" width="28" height="18"/><rect x="848" y="2676" width="28" height="18" transform="rotate(10 862 2685)"/>
</g>
<g font-size="24" font-weight="bold"><text x="842" y="2408">1</text><text x="906" y="2416">1′</text><text x="768" y="2457">3</text><text x="842" y="2457">2</text><text x="905" y="2470">3′</text><text x="970" y="2470">4′</text><text x="828" y="2486">4</text><text x="884" y="2494">2′</text>
<text x="838" y="2619">1</text><text x="884" y="2619">1′</text><text x="766" y="2659">3</text><text x="842" y="2659">2</text><text x="890" y="2659">3′</text><text x="948" y="2659">4′</text><text x="832" y="2696">4</text><text x="880" y="2700">2′</text></g>

<g transform="translate(105,2350)" stroke="#b8474f" stroke-width="2"><path d="M0,31L14,31L68,0L54,0Z" fill="#f8d0d2"/><rect x="0" y="31" width="14" height="122" fill="url(#pR)"/><g transform="translate(14,31) skewY(-30)"><rect width="54" height="122" fill="url(#pR)"/></g></g>
<g transform="translate(105,2527)" stroke="#23449a" stroke-width="2"><path d="M0,31L14,31L68,0L54,0Z" fill="#b9c9ee"/><rect x="0" y="31" width="14" height="122" fill="url(#pB)"/><g transform="translate(14,31) skewY(-30)"><rect width="54" height="122" fill="url(#pB)"/></g></g>
<g font-size="30" font-style="italic"><text x="168" y="2500">F<tspan font-size="19" dy="7">i</tspan></text><text x="168" y="2677">F<tspan font-size="19" dy="7">j</tspan></text></g>
<g font-size="28"><text x="170" y="2475">~</text><text x="170" y="2652">~</text></g>
<g font-size="30"><text x="262" y="2390">P</text><text x="260" y="2648">Q</text></g>
<rect x="209" y="2398" width="118" height="38" rx="6" fill="#fde0dc" stroke="#222" stroke-width="3"/>
<g fill="#f3a4a6" stroke="#b44" stroke-width="2"><rect x="216" y="2404" width="22" height="26"/><rect x="243" y="2404" width="22" height="26"/><rect x="270" y="2404" width="22" height="26"/><rect x="297" y="2404" width="22" height="26"/></g>
<rect x="213" y="2568" width="116" height="38" rx="6" fill="#dde6f6" stroke="#222" stroke-width="3"/>
<g fill="#a6bfe8" stroke="#2a4f9e" stroke-width="2"><rect x="220" y="2574" width="22" height="26"/><rect x="247" y="2574" width="22" height="26"/><rect x="274" y="2574" width="22" height="26"/><rect x="301" y="2574" width="22" height="26"/></g>
<g stroke="#111" stroke-width="3" fill="none">
<path d="M178,2417H203" marker-end="url(#aBk)"/>
<path d="M178,2587H207" marker-end="url(#aBk)"/>
<path d="M268,2436 C275,2482 310,2500 355,2503" marker-end="url(#aBk)"/>
<path d="M218,2606 C245,2655 420,2645 436,2584" marker-end="url(#aBk)"/>
<path d="M518,2503H544" marker-end="url(#aBk)"/>
<path d="M705,2392V2488" stroke-width="2" marker-end="url(#aBk)"/>
<path d="M719,2532H878" stroke-width="2.5" marker-end="url(#aBk)"/>
<path d="M882,2490V2570" stroke-width="2.5" marker-end="url(#aBk)"/>
<path d="M719,2532V2719H140V2688" stroke-width="2.5" marker-end="url(#aBk)"/>
</g>
<rect x="363" y="2427" width="153" height="152" fill="#fff" stroke="#111" stroke-width="3"/>
<g stroke="#999" stroke-width="1.5" stroke-dasharray="4 4"><path d="M363,2455H516M363,2485H516M363,2515H516M363,2548H516M400,2427V2579M440,2427V2579M480,2427V2579"/></g>
<g fill="#a52a0a"><circle cx="395" cy="2453" r="7"/><circle cx="454" cy="2484" r="8"/><circle cx="486" cy="2516" r="10"/><circle cx="425" cy="2547" r="8"/></g>
<rect x="549" y="2415" width="131" height="182" rx="30" fill="#eef0f5" stroke="#222" stroke-width="3"/>
<g stroke-width="2"><path d="M597,2451L630,2481M597,2481L630,2451M597,2481L630,2542M597,2512L630,2481M597,2542L630,2512" stroke="#999"/><path d="M597,2451L630,2451M597,2512L630,2542M597,2542L630,2481" stroke="#ee8030"/></g>
<g fill="#f3a6a6" stroke="#c55" stroke-width="2"><rect x="576" y="2440" width="20" height="22"/><rect x="576" y="2470" width="20" height="22"/><rect x="576" y="2501" width="20" height="22"/><rect x="576" y="2531" width="20" height="22"/></g>
<g fill="#8fb0e6" stroke="#2a4f9e" stroke-width="2"><rect x="630" y="2440" width="20" height="22"/><rect x="630" y="2470" width="20" height="22"/><rect x="630" y="2501" width="20" height="22"/><rect x="630" y="2531" width="20" height="22"/></g>
<g font-size="24"><text x="558" y="2460">1</text><text x="558" y="2490">2</text><text x="558" y="2521">3</text><text x="558" y="2551">4</text><text x="654" y="2460">1′</text><text x="654" y="2490">2′</text><text x="654" y="2521">3′</text><text x="654" y="2551">4′</text></g>
<path d="M680,2442 q10,0 10,10 v30 q0,10 8,10 q-8,0 -8,10 v30 q0,10 -10,10" fill="none" stroke="#3a7fd0" stroke-width="3"/>
<g font-size="30"><text x="654" y="2385">RANSAC</text><text x="741" y="2527">Calibrate</text></g>
<g font-size="28"><text x="386" y="2647" textLength="124" lengthAdjust="spacingAndGlyphs">Cost matrix</text><text x="562" y="2651" textLength="124" lengthAdjust="spacingAndGlyphs">Match pairs</text><text x="271" y="2702" textLength="350" lengthAdjust="spacingAndGlyphs">Refined transformation matrix Γ<tspan font-size="18" dy="6" font-style="italic">r</tspan></text></g>

<!-- AFF -->
<use href="#q4" x="1059" y="2350"/>
<use href="#q4" x="1059" y="2552"/>
<use href="#q4" x="1501" y="2442"/>
<use href="#q4" x="1762" y="2350"/>
<use href="#q4" x="1762" y="2551"/>
<g fill="#8fcf8f" opacity="0.45"><rect x="1103" y="2353" width="42" height="42"/><rect x="1193" y="2487" width="40" height="40"/><rect x="1193" y="2553" width="40" height="42"/><rect x="1148" y="2688" width="42" height="40"/></g>
<g fill="none" stroke="#c00000" stroke-width="4"><rect x="1501" y="2442" width="89" height="90"/><rect x="1762" y="2350" width="88" height="89"/><rect x="1762" y="2551" width="88" height="89"/></g>
<polygon points="1255,2390 1333,2410 1333,2475 1255,2495" fill="#d6ebcf" stroke="#2b50a0" stroke-width="2.5"/>
<polygon points="1255,2584 1333,2604 1333,2669 1255,2689" fill="#d6ebcf" stroke="#2b50a0" stroke-width="2.5"/>
<g font-size="21" text-anchor="middle">
<text transform="translate(1318,2442) rotate(90)">Global</text><text transform="translate(1296,2442) rotate(90)">Query</text><text transform="translate(1274,2442) rotate(90)">Generator</text>
<text transform="translate(1318,2636) rotate(90)">Global</text><text transform="translate(1296,2636) rotate(90)">Query</text><text transform="translate(1274,2636) rotate(90)">Generator</text>
</g>
<rect x="1366" y="2392" width="85" height="86" fill="url(#pT)" stroke="#222" stroke-width="3"/>
<rect x="1366" y="2597" width="85" height="86" fill="url(#pT)" stroke="#222" stroke-width="3"/>
<g stroke="#111" stroke-width="2.5" fill="none"><path d="M1335,2442H1360" marker-end="url(#aBk)"/><path d="M1335,2636H1360" marker-end="url(#aBk)"/></g>
<g stroke="#888" stroke-width="2" stroke-dasharray="5 3" fill="none">
<path d="M1400,2400L1150,2373"/><path d="M1440,2470L1238,2515"/><path d="M1400,2605L1238,2565"/><path d="M1440,2675L1190,2712"/>
</g>
<g stroke="#4a8a2c" stroke-width="3" fill="none">
<path d="M1498,2470L1420,2460" marker-end="url(#aDG)"/>
<path d="M1498,2470L1446,2410" marker-end="url(#aDG)"/>
<path d="M1446,2660C1430,2630 1420,2610 1405,2600" marker-end="url(#aDG)"/>
<path d="M1410,2680C1300,2610 1310,2450 1374,2405" marker-end="url(#aDG)"/>
</g>
<path d="M1760,2362C1650,2364 1572,2392 1550,2438" stroke="#3a6fc8" stroke-width="4" fill="none" marker-end="url(#aBl)"/>
<path d="M1790,2640C1745,2560 1738,2430 1770,2372" stroke="#2f56a6" stroke-width="2.5" fill="none"/>
<g font-size="28" text-anchor="middle">
<text x="1146" y="2345">Ego</text><text x="1146" y="2755">CAV</text><text x="1851" y="2344">Ego</text><text x="1856" y="2755">CAV</text><text x="1586" y="2656">Fused</text>
<text x="1411" y="2718" textLength="209" lengthAdjust="spacingAndGlyphs">Global Query Token</text>
<text x="1372" y="2357" font-style="italic" font-weight="bold">Global</text><text x="1667" y="2358" font-style="italic" font-weight="bold">Local</text>
</g>
</g>

<!-- ================= TABLE ================= -->
<g stroke="#111">
<path d="M2063,611H3828" stroke-width="3"/><path d="M2063,655H3828" stroke-width="2.5"/><path d="M2063,701H3828" stroke-width="2.5"/><path d="M2063,1187H3828" stroke-width="3"/>
<path d="M2462,611V1187M3144,611V1187" stroke-width="2"/>
</g>
<g font-size="34" text-anchor="middle" fill="#111">
<text x="2263" y="643">Dataset</text><text x="2803" y="643">V2V4Real</text><text x="3485" y="643">OPV2V</text>
<text x="2263" y="689" textLength="349" lengthAdjust="spacingAndGlyphs">Noise Level <tspan font-family="Liberation Serif, serif" font-style="italic">σ</tspan><tspan font-family="Liberation Serif, serif" font-style="italic" font-size="22" dy="6">t</tspan><tspan dy="-6">/</tspan><tspan font-family="Liberation Serif, serif" font-style="italic">σ</tspan><tspan font-family="Liberation Serif, serif" font-style="italic" font-size="22" dy="6">r</tspan><tspan dy="-6"> (m/°)</tspan></text>
<text x="2576" y="689">0.0/0.0</text><text x="2803" y="689">0.4/0.4</text><text x="3030" y="689">0.8/0.8</text><text x="3258" y="689">0.0/0.0</text><text x="3486" y="689">0.4/0.4</text><text x="3712" y="689">0.8/0.8</text>

<text x="2263" y="734">No Collaboration</text><text x="2576" y="734">41.64/23.43</text><text x="2803" y="734">41.64/23.43</text><text x="3030" y="734">41.64/23.43</text><text x="3258" y="734">73.25/58.22</text><text x="3486" y="734">73.25/58.22</text><text x="3712" y="734">73.25/58.22</text>
<text x="2263" y="778">Late Fusion</text><text x="2576" y="778">56.80/27.62</text><text x="2803" y="778">40.81/13.31</text><text x="3030" y="778">26.65/10.66</text><text x="3258" y="778">86.46/79.21</text><text x="3486" y="778">76.56/40.01</text><text x="3712" y="778">45.57/21.00</text>
<text x="2263" y="822">F-Cooper</text><text x="2576" y="822">61.12/32.36</text><text x="2803" y="822">51.71/24.48</text><text x="3030" y="822">41.90/19.91</text><text x="3258" y="822">87.39/79.39</text><text x="3486" y="822">79.33/40.12</text><text x="3712" y="822">52.91/16.90</text>
<text x="2263" y="865">AttFuse</text><text x="2576" y="865">64.41/34.32</text><text x="2803" y="865">58.42/30.02</text><text x="3030" y="865">49.37/25.44</text><text x="3258" y="865">90.50/81.80</text><text x="3486" y="865">83.54/52.43</text><text x="3712" y="865">68.37/40.96</text>
<text x="2263" y="909">Where2comm</text><text x="2576" y="909">63.69/34.79</text><text x="2803" y="909">58.48/28.09</text><text x="3030" y="909">49.77/24.25</text><text x="3258" y="909">90.46/84.22</text><text x="3486" y="909">82.17/56.47</text><text x="3712" y="909">73.95/45.86</text>
<text x="2263" y="952">DiscoNet</text><text x="2576" y="952">64.19/35.25</text><text x="2803" y="952">57.71/28.41</text><text x="3030" y="952">49.19/24.94</text><text x="3258" y="952">89.58/81.45</text><text x="3486" y="952">83.25/53.22</text><text x="3712" y="952">61.37/30.53</text>
<text x="2263" y="996">V2VNet</text><text x="2576" y="996">65.70/35.38</text><text x="2803" y="996">62.11/30.63</text><text x="3030" y="996">54.73/25.57</text><text x="3258" y="996">91.35/82.43</text><text x="3486" y="996">85.43/54.16</text><text x="3712" y="996">70.43/31.28</text>
<text x="2263" y="1040">CoAlign</text><text x="2576" y="1040">64.06/36.60</text><text x="2803" y="1040">59.58/31.52</text><text x="3030" y="1040">53.02/26.60</text><text x="3258" y="1040">90.93/84.28</text><text x="3486" y="1040">84.48/57.45</text><text x="3712" y="1040">73.95/48.86</text>
<text x="2263" y="1084">V2X-ViT</text><text x="2576" y="1084">66.42/37.34</text><text x="2803" y="1084">63.33/32.38</text><text x="3030" y="1084">57.15/28.22</text><text x="3258" y="1084">91.74/83.31</text><text x="3486" y="1084">82.91/54.73</text><text x="3712" y="1084">61.70/26.07</text>
<text x="2263" y="1128">CoBEVT</text><text x="2576" y="1128">66.01/37.36</text><text x="2803" y="1128">58.63/29.09</text><text x="3030" y="1128">49.22/23.66</text><text x="3258" y="1128">91.71/<tspan font-weight="bold">85.98</tspan></text><text x="3486" y="1128">85.49/60.64</text><text x="3712" y="1128">64.63/29.59</text>
<g font-weight="bold"><text x="2263" y="1172">ERMVP (Ours)</text><text x="2576" y="1172">67.66/42.97</text><text x="2803" y="1172">65.01/40.45</text><text x="3030" y="1172">60.88/35.01</text><text x="3258" y="1172"><tspan>92.18</tspan><tspan font-weight="normal">/85.59</tspan></text><text x="3486" y="1172">85.67/66.32</text><text x="3712" y="1172">77.13/59.15</text></g>
</g>

<!-- ================= CHARTS ================= -->
<g font-family="DejaVu Sans, sans-serif">
<g fill="#efefef"><rect x="2152" y="1276" width="379" height="347"/><rect x="2627" y="1276" width="379" height="347"/><rect x="3101" y="1276" width="380" height="347"/><rect x="3576" y="1276" width="381" height="347"/></g>
<g stroke="#fff" stroke-width="3">
<path d="M2152,1349H2531M2152,1459H2531M2152,1567H2531M2265,1276V1623M2417,1276V1623"/>
<path d="M2627,1352H3006M2627,1456H3006M2627,1558H3006M2741,1276V1623M2893,1276V1623"/>
<path d="M3101,1299H3481M3101,1385H3481M3101,1471H3481M3101,1557H3481M3214,1276V1623M3369,1276V1623"/>
<path d="M3576,1291H3957M3576,1394H3957M3576,1498H3957M3576,1600H3957M3690,1276V1623M3845,1276V1623"/>
</g>
<g fill="none" stroke="#333" stroke-width="2">
<rect x="2152" y="1276" width="379" height="347"/><rect x="2627" y="1276" width="379" height="347"/><rect x="3101" y="1276" width="380" height="347"/><rect x="3576" y="1276" width="381" height="347"/>
<path d="M2146,1349H2152M2146,1459H2152M2146,1567H2152M2265,1623V1629M2417,1623V1629"/>
<path d="M2621,1352H2627M2621,1456H2627M2621,1558H2627M2741,1623V1629M2893,1623V1629"/>
<path d="M3095,1299H3101M3095,1385H3101M3095,1471H3101M3095,1557H3101M3214,1623V1629M3369,1623V1629"/>
<path d="M3570,1291H3576M3570,1394H3576M3570,1498H3576M3570,1600H3576M3690,1623V1629M3845,1623V1629"/>
</g>
<g font-size="30" text-anchor="end" fill="#222">
<text x="2141" y="1360">65</text><text x="2141" y="1470">60</text><text x="2141" y="1578">55</text>
<text x="2616" y="1363">40</text><text x="2616" y="1467">35</text><text x="2616" y="1569">30</text>
<text x="3090" y="1310">92</text><text x="3090" y="1396">90</text><text x="3090" y="1482">88</text><text x="3090" y="1568">86</text>
<text x="3565" y="1302">86</text><text x="3565" y="1405">82</text><text x="3565" y="1509">78</text><text x="3565" y="1611">74</text>
</g>
<g font-size="30" text-anchor="middle" fill="#222">
<text x="2265" y="1657">15</text><text x="2417" y="1657">20</text><text x="2741" y="1657">15</text><text x="2893" y="1657">20</text>
<text x="3214" y="1657">15</text><text x="3369" y="1657">20</text><text x="3690" y="1657">15</text><text x="3845" y="1657">20</text>
</g>
<g font-size="29" text-anchor="middle" fill="#222">
<text x="2342" y="1690" textLength="344" lengthAdjust="spacingAndGlyphs">Communication Volume</text>
<text x="2816" y="1690" textLength="344" lengthAdjust="spacingAndGlyphs">Communication Volume</text>
<text x="3291" y="1690" textLength="344" lengthAdjust="spacingAndGlyphs">Communication Volume</text>
<text x="3766" y="1690" textLength="344" lengthAdjust="spacingAndGlyphs">Communication Volume</text>
<text transform="translate(2089,1448) rotate(-90)" textLength="110" lengthAdjust="spacingAndGlyphs">AP@0.5</text>
<text transform="translate(2565,1448) rotate(-90)" textLength="110" lengthAdjust="spacingAndGlyphs">AP@0.7</text>
<text transform="translate(3039,1448) rotate(-90)" textLength="110" lengthAdjust="spacingAndGlyphs">AP@0.5</text>
<text transform="translate(3513,1448) rotate(-90)" textLength="110" lengthAdjust="spacingAndGlyphs">AP@0.7</text>
</g>
<g fill="none" stroke-width="3.5" stroke-linejoin="round">
<polyline stroke="#87ceeb" stroke-dasharray="12 6" points="2258.7,1601.9 2284.4,1513.5 2329.4,1452.5 2380.9,1387.3 2441.3,1368.4 2513.4,1356.6"/>
<polyline stroke="#7b68ee" points="2204.7,1608.2 2235.5,1503 2252.2,1401.2 2278,1364.1 2380.9,1307.3 2441.3,1293.4 2513.4,1290.9"/>
<polyline stroke="#87ceeb" stroke-dasharray="12 6" points="2734.6,1601.9 2760.4,1538.8 2811.8,1507.2 2856.8,1479 2914.7,1469.4 2955.9,1466 2989.3,1460.9"/>
<polyline stroke="#7b68ee" points="2680.6,1583 2708.9,1490.4 2729.5,1414.6 2753.9,1373.8 2856.8,1320.8 2914.7,1296.8 2955.9,1294.7 2989.3,1290.9"/>
<polyline stroke="#87ceeb" stroke-dasharray="12 6" points="3201.6,1606.1 3217,1549.3 3240.2,1469.4 3332.8,1406.2 3384.2,1380.1 3464,1366.2"/>
<polyline stroke="#7b68ee" points="3159.1,1601.1 3188.7,1395.7 3229.9,1333.8 3330.2,1304 3429.3,1293.4 3464,1290.9"/>
<polyline stroke="#87ceeb" stroke-dasharray="12 6" points="3676.2,1606.1 3692.9,1545.1 3712.2,1450.4 3750.8,1410.4 3795.8,1362 3853.7,1341 3937.3,1322"/>
<polyline stroke="#7b68ee" points="3635,1591.4 3647.9,1494.6 3664.6,1410.4 3680,1381 3707,1359.9 3808.7,1322 3866.6,1306.5 3937.3,1301"/>
</g>
<g>
<circle cx="2168.6" cy="1528.3" r="6" fill="#1f77b4"/><circle cx="2513.4" cy="1433.6" r="6" fill="#ff7f0e"/><circle cx="2513.4" cy="1334.7" r="6" fill="#2ca02c"/><use href="#mV2X" x="2513.4" y="1318.7"/><use href="#mCo" x="2513.4" y="1326.3"/>
<circle cx="2644.6" cy="1606.1" r="6" fill="#1f77b4"/><circle cx="2989.3" cy="1511.4" r="6" fill="#ff7f0e"/><circle cx="2989.3" cy="1454.6" r="6" fill="#2ca02c"/><use href="#mV2X" x="2989.3" y="1405"/><use href="#mCo" x="2989.3" y="1406.2"/>
<circle cx="3118" cy="1536.7" r="6" fill="#1f77b4"/><circle cx="3464" cy="1496.7" r="6" fill="#ff7f0e"/><circle cx="3464" cy="1326.3" r="6" fill="#2ca02c"/><use href="#mV2X" x="3464" y="1310.3"/><use href="#mCo" x="3464" y="1311.5"/>
<circle cx="3592.6" cy="1465.2" r="6" fill="#1f77b4"/><circle cx="3937.3" cy="1460.9" r="6" fill="#ff7f0e"/><circle cx="3937.3" cy="1382.2" r="6" fill="#2ca02c"/><use href="#mV2X" x="3937.3" y="1359.9"/><use href="#mCo" x="3937.3" y="1290.5"/>
</g>
</g>
<g font-size="30" text-anchor="middle" fill="#222">
<text x="2574" y="1745" textLength="193" lengthAdjust="spacingAndGlyphs">(a) V2V4Real</text>
<text x="3526" y="1745" textLength="149" lengthAdjust="spacingAndGlyphs">(b) OPV2V</text>
</g>
<rect x="2194" y="1776" width="1698" height="51" rx="6" fill="#f7f7f7" stroke="#d0d0d0" stroke-width="2"/>
<g font-family="DejaVu Sans, sans-serif" font-size="28" fill="#222">
<circle cx="2223" cy="1801" r="5.5" fill="#1f77b4"/><text x="2265" y="1811" textLength="165" lengthAdjust="spacingAndGlyphs">Late Fusion</text>
<circle cx="2500" cy="1801" r="5.5" fill="#ff7f0e"/><text x="2545" y="1811" textLength="121" lengthAdjust="spacingAndGlyphs">FCooper</text>
<circle cx="2737" cy="1801" r="5.5" fill="#2ca02c"/><text x="2782" y="1811" textLength="108" lengthAdjust="spacingAndGlyphs">V2VNet</text>
<use href="#mV2X" x="2962" y="1801"/><text x="3007" y="1811" textLength="113" lengthAdjust="spacingAndGlyphs">V2X-VIT</text>
<use href="#mCo" x="3189" y="1801"/><text x="3234" y="1811" textLength="112" lengthAdjust="spacingAndGlyphs">CoBEVT</text>
<path d="M3403,1801H3436" stroke="#87ceeb" stroke-width="3.5" stroke-dasharray="12 6"/><text x="3461" y="1811" textLength="204" lengthAdjust="spacingAndGlyphs">Where2comm</text>
<path d="M3722,1801H3753" stroke="#7b68ee" stroke-width="3.5"/><text x="3779" y="1811" textLength="100" lengthAdjust="spacingAndGlyphs">ERMVP</text>
</g>

<!-- ================= QUALITATIVE ================= -->
<use href="#scA" x="2071" y="2050" width="459" height="278"/>
<use href="#scA" x="2545" y="2050" width="459" height="278"/>
<use href="#scA" x="3019" y="2050" width="459" height="278"/>
<use href="#scA" x="3494" y="2051" width="459" height="282"/>
<use href="#scB" x="2071" y="2341" width="459" height="279"/>
<use href="#scB" x="2545" y="2341" width="459" height="279"/>
<use href="#scB" x="3019" y="2341" width="459" height="279"/>
<use href="#scB" x="3494" y="2341" width="459" height="279"/>
<g font-family="Liberation Serif, serif" font-size="32" text-anchor="middle">
<text x="2281" y="2672">(a)  <tspan font-weight="bold">V2VNet</tspan></text>
<text x="2764" y="2672">(b)  <tspan font-weight="bold">CoBEVT</tspan></text>
<text x="3239" y="2672">(c)  <tspan font-weight="bold">V2X-ViT</tspan></text>
<text x="3710" y="2672">(d)  <tspan font-weight="bold">ERMVP</tspan></text>
</g>
<text x="2063" y="2726" font-size="34" fill="#151515" textLength="1833" lengthAdjust="spacingAndGlyphs">The qualitative comparison confirms ERMVP’s strengths in delivering accurate and comprehensive perception.</text>
</svg>
</body></html>
